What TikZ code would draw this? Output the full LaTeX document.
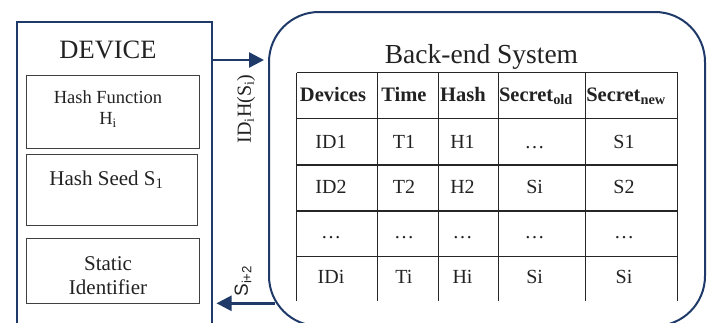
\documentclass[tikz,border=0pt]{standalone}
\usepackage{fontspec}
\setmainfont{Liberation Serif}
\newfontfamily\sansf{Liberation Sans}
\usetikzlibrary{arrows.meta}
\definecolor{navy}{HTML}{1F3A68}
\definecolor{ink}{HTML}{222222}
\tikzset{
  outerbox/.style={draw=navy, line width=2pt},
  innerbox/.style={draw=black!75, line width=0.9pt},
  navyarrow/.style={draw=navy, line width=2.4pt, -{Triangle[length=15pt,width=15pt]}},
  tline/.style={draw=black!85, line width=1.1pt},
  cell/.style={text=ink, anchor=base, inner sep=0pt, font=\fontsize{20}{22}\selectfont},
  hcell/.style={text=ink, anchor=base, inner sep=0pt, font=\fontsize{20.5}{22}\selectfont\bfseries},
  txt/.style={text=ink, inner sep=0pt, align=center},
}
\begin{document}
\begin{tikzpicture}[x=1pt,y=-1pt]
\useasboundingbox (0,0) rectangle (712,322);
\clip (0,0) rectangle (712,322);
% Device
\draw[outerbox] (17,22) rectangle (212,340);
\node[txt, anchor=base, font=\fontsize{26.5}{28}\selectfont] (devt) at (108,58.3) {DEVICE};
\draw[innerbox] (26.7,75) rectangle (199,148.3);
\node[txt, anchor=base, font=\fontsize{18.5}{20}\selectfont] (hf1) at (108,103.3) {Hash Function};
\node[txt, anchor=base, font=\fontsize{18.5}{20}\selectfont] (hf2) at (108,124.5) {H\textsubscript{i}};
\draw[innerbox] (26.7,154) rectangle (197.7,225.7);
\node[txt, anchor=base, font=\fontsize{21}{23}\selectfont] (hs) at (106.5,185) {Hash Seed S\textsubscript{1}};
\draw[innerbox] (26.7,238) rectangle (199,303.3);
\node[txt, anchor=base, font=\fontsize{21}{23}\selectfont] (st1) at (108,270) {Static};
\node[txt, anchor=base, font=\fontsize{21}{23}\selectfont] (st2) at (108,294) {Identifier};
\coordinate (devE) at (212,60);
\coordinate (devE2) at (216.5,303.3);
% Back-end
\draw[outerbox, rounded corners=50pt] (269,12) rectangle (705,326);
\coordinate (beW) at (264,60);
\coordinate (beW2) at (275,303.3);
\node[txt, anchor=base, font=\fontsize{27.5}{29}\selectfont] (bet) at (481.5,63.3) {Back-end System};
% table lines
\draw[tline] (296.7,72.7) -- (677.7,72.7);
\foreach \y in {118.3,165,211,256.7}{\draw[tline] (296.7,\y) -- (677.7,\y);}
\foreach \x in {296.7,377.7,438.3,498.3,585.7,677.7}{\draw[tline] (\x,72.7) -- (\x,300.7);}
% header
\node[hcell] (h1) at (333,101.7) {Devices};
\node[hcell] (h2) at (404,101.7) {Time};
\node[hcell] (h3) at (463,101.7) {Hash};
\node[hcell] (h4) at (536,101.7) {Secret\textsubscript{old}};
\node[hcell] (h5) at (626,101.7) {Secret\textsubscript{new}};
% rows
\node[cell] (r11) at (331,148.3) {ID1};
\node[cell] (r12) at (404,148.3) {T1};
\node[cell] (r13) at (462.5,148.3) {H1};
\node[cell] (r14) at (534.6,148.3) {\dots};
\node[cell] (r15) at (624,148.3) {S1};
\node[cell] (r21) at (331,193.3) {ID2};
\node[cell] (r22) at (404,193.3) {T2};
\node[cell] (r23) at (462.5,193.3) {H2};
\node[cell] (r24) at (534.6,193.3) {Si};
\node[cell] (r25) at (624,193.3) {S2};
\node[cell] (r31) at (331,238.5) {\dots};
\node[cell] (r32) at (404,238.5) {\dots};
\node[cell] (r33) at (462.5,238.5) {\dots};
\node[cell] (r34) at (534.6,238.5) {\dots};
\node[cell] (r35) at (624,238.5) {\dots};
\node[cell] (r41) at (331,283.3) {IDi};
\node[cell] (r42) at (404,283.3) {Ti};
\node[cell] (r43) at (462.5,283.3) {Hi};
\node[cell] (r44) at (534.6,283.3) {Si};
\node[cell] (r45) at (624,283.3) {Si};
% arrows
\draw[navyarrow] (devE) -- (beW);
\draw[navyarrow] (beW2) -- (devE2);
\node[txt, rotate=90, font=\fontsize{20}{22}\selectfont] (lab1) at (246,109) {ID\textsubscript{i}H(S\textsubscript{i})};
\node[txt, rotate=90, font=\sansf\fontsize{19}{21}\selectfont] (lab2) at (243,281) {S\textsubscript{i+2}};
\end{tikzpicture}
\end{document}
